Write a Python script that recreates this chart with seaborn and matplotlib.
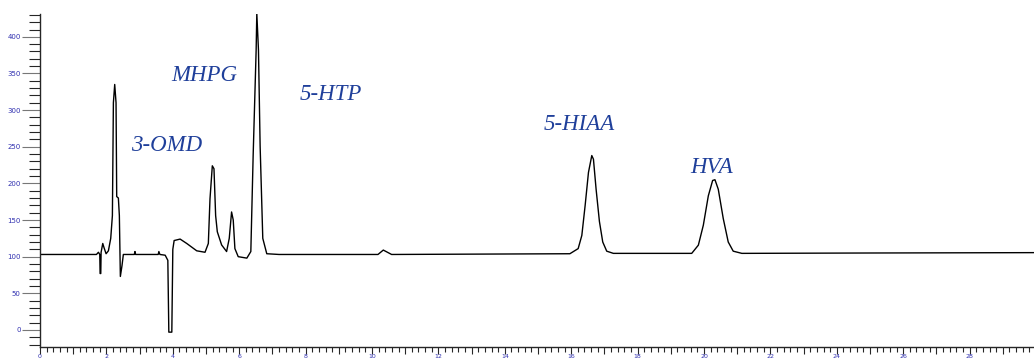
import seaborn as sns
import matplotlib.pyplot as plt
import numpy as np
from matplotlib.ticker import MultipleLocator, FuncFormatter

# retention time (min) and detector signal
time_min = [0.0, 1.70, 1.76, 1.80, 1.81, 1.83, 1.84, 1.89, 1.93, 1.99,
            2.06, 2.13, 2.18, 2.21, 2.25, 2.29, 2.31, 2.36, 2.39, 2.42,
            2.47, 2.51, 2.84, 2.86, 2.88, 3.56, 3.58, 3.61, 3.77, 3.85,
            3.88, 3.97, 4.00, 4.04, 4.22, 4.42, 4.72, 4.97, 5.07, 5.12,
            5.19, 5.24, 5.29, 5.34, 5.47, 5.62, 5.70, 5.77, 5.82, 5.87,
            5.97, 6.23, 6.35, 6.42, 6.51, 6.53, 6.58, 6.63, 6.71, 6.83,
            7.20, 10.18, 10.34, 10.59, 15.96, 16.21, 16.32, 16.42, 16.52, 16.62,
            16.67, 16.75, 16.85, 16.95, 17.07, 17.27, 19.63, 19.83, 19.98, 20.13,
            20.26, 20.33, 20.43, 20.58, 20.73, 20.88, 21.14, 25.0, 29.94]
signal = [103, 103, 106, 103, 77, 77, 106, 118, 112, 104,
          108, 125, 156, 310, 335, 310, 182, 180, 156, 73,
          88, 103, 103, 107, 103, 103, 107, 103, 102, 95,
          -3, -3, 110, 122, 124, 118, 108, 106, 118, 179,
          224, 220, 156, 134, 116, 107, 125, 161, 150, 111,
          100, 98, 107, 238, 382, 432, 382, 251, 125, 104,
          103, 103, 109, 103, 104, 111, 129, 170, 215, 238,
          233, 192, 148, 120, 107.5, 104.5, 104.5, 115.7, 143, 183,
          204, 205, 192, 152, 120, 107.5, 104.5, 105, 105.5]

peak_names = ["3-OMD", "MHPG", "5-HTP", "5-HIAA", "HVA"]
label_x = [3.81, 4.94, 8.77, 16.23, 20.24]
label_y = [244, 340, 314, 273, 214]

sns.set_style("ticks")
fig = plt.figure(figsize=(10.34, 3.62), dpi=100)
ax = fig.add_axes([0.0387, 0.042, 0.9613, 0.919])

sns.lineplot(x=time_min, y=signal, sort=False, color="black",
             linewidth=1.0, ax=ax)

for name, x, y in zip(peak_names, label_x, label_y):
    ax.text(x, y, name, ha="center", va="baseline", fontsize=16.5,
            style="italic", family="Liberation Serif", color="#1f3f9a")

ax.set_xlim(0, 29.94)
ax.set_ylim(-23, 431)
sns.despine(ax=ax)

ax.xaxis.set_major_locator(MultipleLocator(1))
ax.xaxis.set_minor_locator(MultipleLocator(0.2))
ax.xaxis.set_major_formatter(
    FuncFormatter(lambda v, p: f"{int(v)}" if int(round(v)) % 2 == 0 else ""))
ax.yaxis.set_major_locator(MultipleLocator(50))
ax.yaxis.set_minor_locator(MultipleLocator(10))

ax.tick_params(axis="x", which="major", length=5, width=0.8, pad=0.5,
               labelsize=4.5, labelcolor="#3030b0")
ax.tick_params(axis="x", which="minor", length=3.5, width=0.8)
ax.tick_params(axis="y", which="major", length=13, width=0.8, pad=1,
               labelsize=5, labelcolor="#3030b0", color="#777777")
ax.tick_params(axis="y", which="minor", length=8, width=0.8)
for s in ax.spines.values():
    s.set_linewidth(1.0)

fig.savefig("out.png", dpi=100)
